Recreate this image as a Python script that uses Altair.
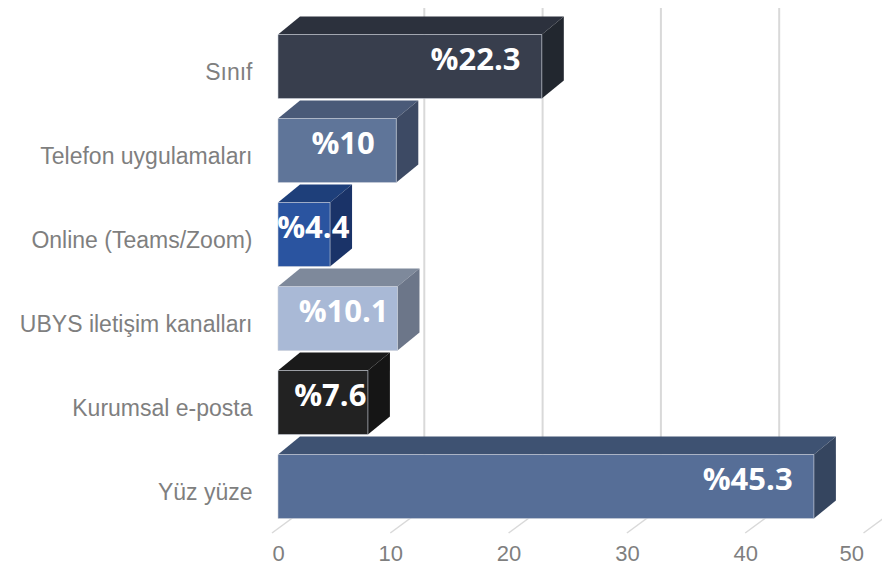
import json
import altair as alt
import pandas as pd

# ---- data ----
categories = ["Sınıf", "Telefon uygulamaları", "Online (Teams/Zoom)",
              "UBYS iletişim kanalları", "Kurumsal e-posta", "Yüz yüze"]
values = [22.3, 10, 4.4, 10.1, 7.6, 45.3]
value_labels = ["%22.3", "%10", "%4.4", "%10.1", "%7.6", "%45.3"]
x_ticks = [0, 10, 20, 30, 40, 50]

# ---- styles ----
front_colors = ["#383e4d", "#5f7599", "#2a54a0", "#a9b9d6", "#222222", "#566e97"]
top_colors = ["#2c313d", "#4a5a78", "#1e3f7a", "#7e899b", "#1a1a1a", "#3e5272"]
side_colors = ["#22272f", "#3d4a64", "#1a3368", "#6c7689", "#151515", "#35455f"]

W = 591.5
H = 525
PX = W / 50.0            # pixels per x unit
ROW = 84.0               # pixels per category
Y_TOP = -58.5 / ROW
Y_FLOOR = 466.5 / ROW
DX = 22 / PX             # bar depth, x units
DY = 18 / ROW            # bar depth, y units
HALF = 32 / ROW          # half bar height
WALL_DX = 28 / PX
WALL_Y = 441.5 / ROW
FLOOR_FRONT_DX = -6 / PX

keys, colors = [], []
for c, f, t, s in zip(categories, front_colors, top_colors, side_colors):
    keys += [c + "|front", c + "|top", c + "|side"]
    colors += [f, t, s]
color_scale = alt.Scale(domain=keys, range=colors)

front_rows, top_rows, side_rows, text_rows = [], [], [], []
for i, (c, v, lab) in enumerate(zip(categories, values, value_labels)):
    front_rows.append(dict(key=c + "|front", x=0, x2=v, y=i - HALF, y2=i + HALF))
    top_rows.append(dict(key=c + "|top", y=i - HALF, x=0, x2=v))
    top_rows.append(dict(key=c + "|top", y=i - HALF - DY, x=DX, x2=v + DX))
    side_rows.append(dict(key=c + "|side", x=v, y=i - HALF, y2=i + HALF))
    side_rows.append(dict(key=c + "|side", x=v + DX, y=i - HALF - DY, y2=i + HALF - DY))
    text_rows.append(dict(label=lab, v=v, idx=i))

front_df = pd.DataFrame(front_rows)
top_df = pd.DataFrame(top_rows)
side_df = pd.DataFrame(side_rows)
text_df = pd.DataFrame(text_rows)

wall_df = pd.DataFrame({"t": x_ticks[1:]})
wall_df["x"] = wall_df["t"] + WALL_DX
wall_df["y"] = Y_TOP
wall_df["y2"] = WALL_Y

floor_df = pd.DataFrame({"t": x_ticks})
floor_df["x"] = floor_df["t"] + FLOOR_FRONT_DX
floor_df["x2"] = floor_df["t"] + WALL_DX
floor_df["y"] = Y_FLOOR
floor_df["y2"] = WALL_Y

x_scale = alt.Scale(domain=[0, 50], nice=False, zero=False)
y_scale = alt.Scale(domain=[Y_TOP, Y_FLOOR], reverse=True, nice=False, zero=False)

x_axis = alt.Axis(values=x_ticks, title=None, grid=False, domain=False, ticks=False,
                  labelFont="Liberation Sans", labelFontSize=22, labelColor="#7f7f7f",
                  labelPadding=10, labelOffset=-6)
label_expr = json.dumps(categories, ensure_ascii=False) + "[datum.value]"
y_axis = alt.Axis(values=list(range(len(categories))), labelExpr=label_expr, title=None,
                  grid=False, domain=False, ticks=False, labelLimit=400,
                  labelFont="Liberation Sans", labelFontSize=23, labelColor="#7f7f7f",
                  labelPadding=26, labelOffset=6)


def X(f):
    return alt.X(f, type="quantitative", scale=x_scale, axis=x_axis, stack=None)


def Y(f):
    return alt.Y(f, type="quantitative", scale=y_scale, axis=y_axis, stack=None)


wall = alt.Chart(wall_df).mark_rule(color="#d9d9d9", strokeWidth=2).encode(
    x=X("x"), y=Y("y"), y2="y2")

floor = alt.Chart(floor_df).mark_rule(color="#d9d9d9", strokeWidth=1.5).encode(
    x=X("x"), x2="x2", y=Y("y"), y2="y2")

front = alt.Chart(front_df).mark_rect(stroke="#c9ced8", strokeWidth=1, strokeOpacity=0.6).encode(
    x=X("x"), x2="x2", y=Y("y"), y2="y2",
    color=alt.Color("key:N", scale=color_scale, legend=None))

top = alt.Chart(top_df).mark_area(orient="horizontal").encode(
    y=Y("y"), x=X("x"), x2="x2",
    color=alt.Color("key:N", scale=color_scale, legend=None))

side = alt.Chart(side_df).mark_area(orient="vertical").encode(
    x=X("x"), y=Y("y"), y2="y2",
    color=alt.Color("key:N", scale=color_scale, legend=None))

text = alt.Chart(text_df).transform_calculate(
    lx="max(datum.v - 5.6, 0.45 * datum.v + 1)"
).mark_text(font="Open Sans", fontWeight="bold", fontSize=31, color="white",
            align="center", baseline="middle", dy=-6).encode(
    x=X("lx:Q"), y=Y("idx:Q"), text="label:N")

chart = alt.layer(wall, floor, top, side, front, text).properties(
    width=W, height=H,
    autosize=alt.AutoSizeParams(type="none"),
    padding={"left": 270, "top": 0, "right": 12, "bottom": 35},
).configure_view(stroke=None)

chart.save("out.html", embed_options={"renderer": "svg", "actions": False})
